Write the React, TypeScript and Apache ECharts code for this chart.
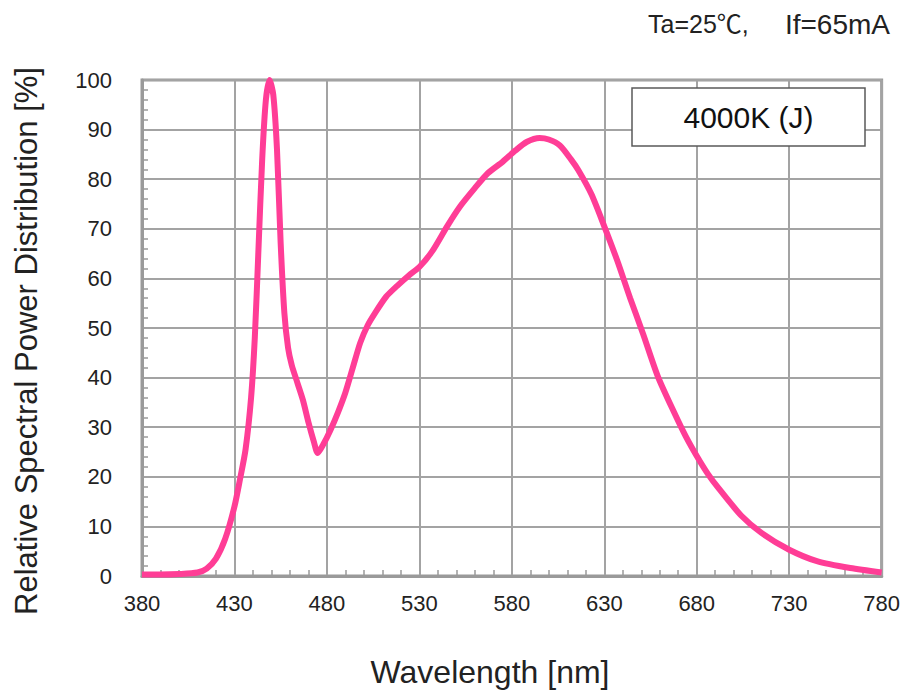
import React, { useEffect, useRef } from "react";
import * as echarts from "echarts";

const wavelengths = [
  380, 390, 400, 410, 415, 420, 425, 430, 433, 436, 439, 441, 443, 445, 447, 449,
  451, 453, 455, 457, 459, 461, 464, 467, 470, 473, 475, 478, 482, 486, 490, 494,
  498, 502, 506, 512, 518, 524, 530, 537, 545, 552, 560, 567, 575, 582, 588, 595,
  600, 606, 612, 616, 623, 630, 637, 644, 651, 659, 668, 674, 680, 686, 692, 704, 715, 730,
  745, 763, 780,
];
const relativePower = [
  0.3, 0.3, 0.4, 0.7, 1.5, 3.5, 7.5, 14, 19.5, 25.5, 36, 48, 66, 84, 96, 100,
  97, 86, 67, 53, 46, 42.5, 39, 35.5, 31, 27, 24.8, 26.5, 29.5, 33, 37, 42,
  47, 50.5, 53, 56.3, 58.5, 60.5, 62.3, 65.5, 70.5, 74.5, 78.2, 81.2, 83.5, 85.8, 87.5, 88.3,
  88, 86.8, 84, 81.8, 77, 70.5, 63.6, 56, 48.8, 40.2, 32.8, 28.2, 24.2, 20.6, 17.6, 12.2, 8.7, 5.3,
  3, 1.6, 0.7,
];
const xTicks = [380, 430, 480, 530, 580, 630, 680, 730, 780];
const yTicks = [0, 10, 20, 30, 40, 50, 60, 70, 80, 90, 100];

const conditionTa = "Ta=25\u2103,";
const conditionIf = "If=65mA";
const legendText = "4000K (J)";
const xName = "Wavelength [nm]";
const yName = "Relative Spectral Power Distribution [%]";

export default function App() {
  const ref = useRef<HTMLDivElement>(null);
  useEffect(() => {
    if (!ref.current) return;
    const chart = echarts.init(ref.current, null, { renderer: "svg" });
    const font = "'Liberation Sans', Arial, 'Noto Sans CJK JP', sans-serif";
    const gridColor = "#a3a3a3";
    chart.setOption({
      animation: false,
      backgroundColor: "#ffffff",
      grid: {
        left: 142,
        right: 21,
        top: 80,
        bottom: 116,
        show: true,
        borderColor: "#9a9a9a",
        borderWidth: 3,
      },
      xAxis: {
        type: "value",
        min: xTicks[0],
        max: xTicks[xTicks.length - 1],
        interval: 50,
        axisLine: { show: true, lineStyle: { color: "#9a9a9a", width: 3 } },
        axisTick: { show: false, inside: true },
        minorTick: { show: true, splitNumber: 5, length: 6, lineStyle: { color: "#9a9a9a", width: 1.5 } },
        splitLine: { show: true, lineStyle: { color: gridColor, width: 2 } },
        axisLabel: {
          color: "#222",
          fontSize: 22,
          fontFamily: font,
          margin: 16,
          formatter: (v: number) => (xTicks.includes(v) ? String(v) : ""),
        },
      },
      yAxis: {
        type: "value",
        min: yTicks[0],
        max: yTicks[yTicks.length - 1],
        interval: 10,
        axisLine: { show: true, lineStyle: { color: "#9a9a9a", width: 3 } },
        axisTick: { show: false, inside: true },
        minorTick: { show: true, splitNumber: 5, length: 6, lineStyle: { color: "#9a9a9a", width: 1.5 } },
        splitLine: { show: true, lineStyle: { color: gridColor, width: 2 } },
        axisLabel: {
          color: "#222",
          fontSize: 22,
          fontFamily: font,
          margin: 30,
          formatter: (v: number) => (yTicks.includes(v) ? String(v) : ""),
        },
      },
      series: [
        {
          type: "line",
          data: wavelengths.map((w, i) => [w, relativePower[i]]),
          showSymbol: false,
          smooth: 0.25,
          lineStyle: { color: "#ff3d96", width: 6 },
          clip: false,
        },
      ],
      graphic: [
        {
          type: "text",
          x: 648,
          y: 24,
          style: { text: conditionTa, font: `25px ${font}`, fill: "#222", align: "left", verticalAlign: "middle" },
        },
        {
          type: "text",
          x: 890,
          y: 24,
          style: { text: conditionIf, font: `28px ${font}`, fill: "#222", align: "right", verticalAlign: "middle" },
        },
        {
          type: "rect",
          shape: { x: 632, y: 88, width: 233, height: 58 },
          style: { fill: "#ffffff", stroke: "#5a5a5a", lineWidth: 1.5 },
          z: 10,
        },
        {
          type: "text",
          x: 748.5,
          y: 117,
          style: {
            text: legendText,
            font: `30px ${font}`,
            fill: "#111",
            align: "center",
            verticalAlign: "middle",
          },
          z: 11,
        },
        {
          type: "text",
          x: 490,
          y: 672,
          style: {
            text: xName,
            font: `32px ${font}`,
            fill: "#222",
            align: "center",
            verticalAlign: "middle",
          },
        },
        {
          type: "text",
          x: 26,
          y: 341,
          rotation: Math.PI / 2,
          style: {
            text: yName,
            font: `31px ${font}`,
            fill: "#222",
            align: "center",
            verticalAlign: "middle",
          },
        },
      ],
    });
    return () => chart.dispose();
  }, []);
  return <div ref={ref} style={{ width: 903, height: 692, position: "absolute", left: 0, top: 0 }} />;
}
